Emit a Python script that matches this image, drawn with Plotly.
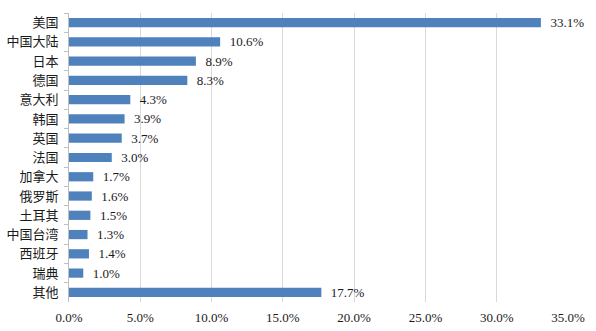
import plotly.graph_objects as go

categories = ["美国", "中国大陆", "日本", "德国", "意大利", "韩国", "英国", "法国",
              "加拿大", "俄罗斯", "土耳其", "中国台湾", "西班牙", "瑞典", "其他"]
values = [33.1, 10.6, 8.9, 8.3, 4.3, 3.9, 3.7, 3.0, 1.7, 1.6, 1.5, 1.3, 1.4, 1.0, 17.7]
x_ticks = [0, 5, 10, 15, 20, 25, 30, 35]
x_tick_labels = ["0.0%", "5.0%", "10.0%", "15.0%", "20.0%", "25.0%", "30.0%", "35.0%"]

font_family = "Liberation Serif, Times New Roman, Noto Sans CJK SC, serif"

fig = go.Figure(go.Bar(
    x=values, y=categories, orientation="h",
    marker=dict(color="#4F81BD", line=dict(width=0)),
    text=[f"  {v:.1f}%" for v in values], textposition="outside",
    constraintext="none",
    textfont=dict(size=13, color="#1a1a1a", family=font_family),
    cliponaxis=False,
))

fig.update_layout(
    width=596, height=331,
    margin=dict(l=69, r=28, t=13, b=29),
    paper_bgcolor="white", plot_bgcolor="white",
    bargap=0.52,
    showlegend=False,
    font=dict(family=font_family, size=13, color="#1a1a1a"),
    xaxis=dict(range=[0, 35], tickvals=x_ticks, ticktext=x_tick_labels,
               showgrid=True, gridcolor="#d9d9d9", gridwidth=1,
               zeroline=False, showline=False, ticks="", automargin=False,
               tickfont=dict(size=13), fixedrange=True, ticklabelstandoff=6),
    yaxis=dict(autorange="reversed", showline=True, linecolor="#bfbfbf", linewidth=1,
               ticks="outside", tickson="boundaries", ticklen=4, tickcolor="#bfbfbf",
               automargin=False,
               tickfont=dict(size=13), showgrid=False, ticklabelstandoff=7),
)

fig.write_html("out.html")
